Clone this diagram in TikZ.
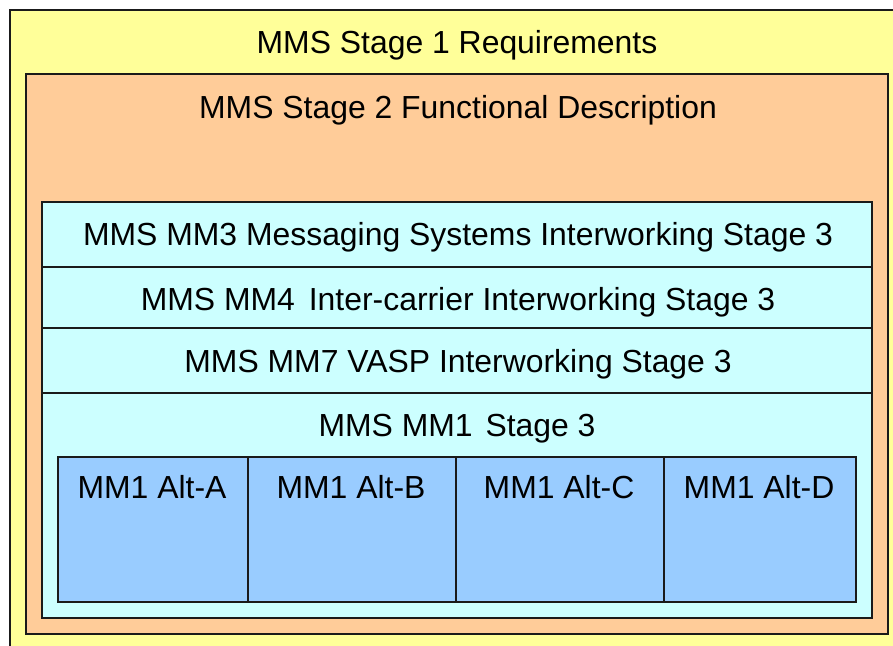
\documentclass[tikz,border=0pt]{standalone}
\usepackage{fontspec}
\setmainfont{Liberation Sans}
\definecolor{cyellow}{HTML}{FFFF99}
\definecolor{corange}{HTML}{FFCC99}
\definecolor{ccyan}{HTML}{CCFFFF}
\definecolor{cblue}{HTML}{99CCFF}
\definecolor{cline}{HTML}{1A1A1A}
\tikzset{
  box/.style={draw=cline, line width=2pt, rectangle, inner sep=0pt, anchor=north west},
  lbl/.style={inner sep=0pt, anchor=base, font=\fontsize{31.9}{36}\selectfont, text=black}
}
\begin{document}
\begin{tikzpicture}[x=1pt,y=-1pt]
\useasboundingbox (0,0) rectangle (893,645);
\clip (0,0) rectangle (893,645);
\node[box, fill=cyellow, minimum width=900pt, minimum height=660pt] (s1) at (9,9) {};
\node[box, fill=corange, minimum width=862pt, minimum height=560pt] (s2) at (25,73) {};
\node[box, fill=ccyan, minimum width=830pt, minimum height=65pt] (r3) at (41,201) {};
\node[box, fill=ccyan, minimum width=830pt, minimum height=61pt] (r4) at (41,266) {};
\node[box, fill=ccyan, minimum width=830pt, minimum height=65pt] (r7) at (41,327) {};
\node[box, fill=ccyan, minimum width=830pt, minimum height=225pt] (r1) at (41,392) {};
\node[box, fill=cblue, minimum width=190pt, minimum height=145pt] (aa) at (57,456) {};
\node[box, fill=cblue, minimum width=208pt, minimum height=145pt] (ab) at (247,456) {};
\node[box, fill=cblue, minimum width=208pt, minimum height=145pt] (ac) at (455,456) {};
\node[box, fill=cblue, minimum width=192pt, minimum height=145pt] (ad) at (663,456) {};
\node[lbl] (t1) at (457,53) {MMS Stage 1 Requirements};
\node[lbl] (t2) at (458,118) {MMS Stage 2 Functional Description};
\node[lbl] (t3) at (458,245) {MMS MM3 Messaging Systems Interworking Stage 3};
\node[lbl] (t4) at (458,310) {MMS MM4\hspace{5pt} Inter-carrier Interworking Stage 3};
\node[lbl] (t7) at (458,372) {MMS MM7 VASP Interworking Stage 3};
\node[lbl] (t1s) at (457,436) {MMS MM1\hspace{4pt} Stage 3};
\node[lbl] (ta) at (152,498) {MM1 Alt-A};
\node[lbl] (tb) at (351,498) {MM1 Alt-B};
\node[lbl] (tc) at (559,498) {MM1 Alt-C};
\node[lbl] (td) at (759,498) {MM1 Alt-D};
\end{tikzpicture}
\end{document}
